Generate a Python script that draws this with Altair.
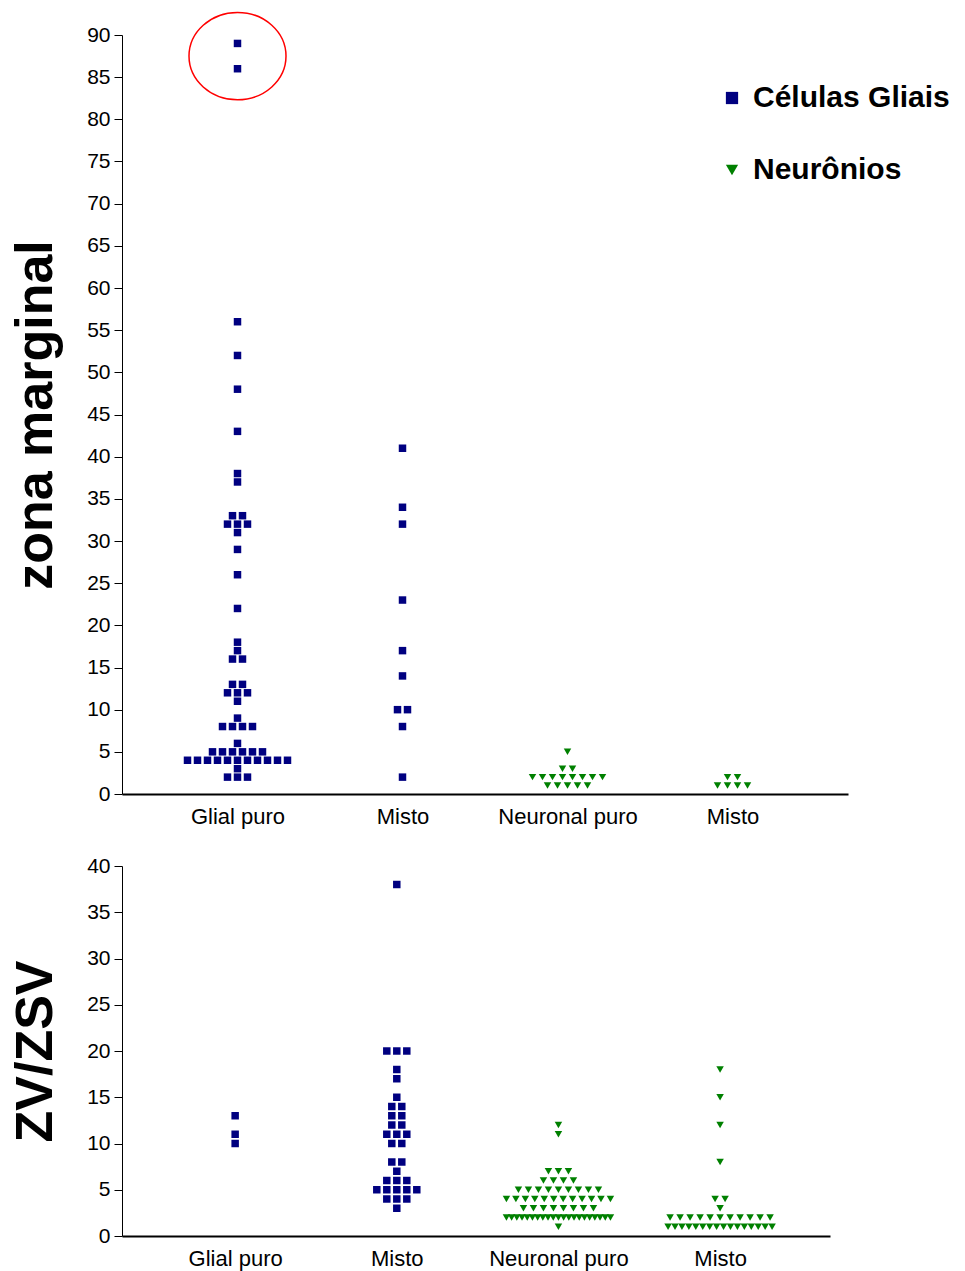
import altair as alt
import pandas as pd
from collections import Counter

# ---------------------------------------------------------------- data
GROUPS = ["Glial puro", "Misto", "Neuronal puro", "Misto"]
SERIES = ["Células Gliais", "Neurônios"]
COLORS = ["#000080", "#008000"]
SHAPES = ["square", "triangle-down"]

# zona marginal
zm_glial_puro = ([89, 86, 56, 52, 48, 43, 38, 37, 33, 33, 32, 32, 32, 31, 29, 26,
                  22, 18, 17, 16, 16, 13, 13, 12, 12, 12, 11, 9, 8, 8, 8, 8, 6]
                 + [5] * 6 + [4] * 11 + [3] + [2] * 3)
zm_misto_glial = [41, 34, 32, 23, 17, 14, 10, 10, 8, 2]
zm_neuronal_puro = [5, 3, 3] + [2] * 8 + [1] * 5
zm_misto_neuronal = [2, 2, 1, 1, 1, 1]

# ZV/ZSV
zv_glial_puro = [13, 11, 10]
zv_misto_glial = [38, 20, 20, 20, 18, 17, 15, 14, 14, 13, 13, 12, 12, 11, 11, 11,
                  10, 10, 8, 8, 7, 6, 6, 6, 5, 5, 5, 5, 5, 4, 4, 4, 3]
zv_neuronal_puro = ([12, 11, 7, 7, 7, 6, 6, 6, 6] + [5] * 9 + [4] * 12 + [3] * 8
                    + [2] * 21 + [1])
zv_misto_neuronal = [18, 15, 12, 8, 4, 4, 3] + [2] * 11 + [1] * 16

# highlighted outliers (centre of the ring, zona marginal / Glial puro)
ring_group = [0]
ring_value = [87.5]

# ---------------------------------------------------------------- layout
TOP_W, TOP_H = 726, 759
BOT_W, BOT_H = 708, 370
TOP_XDOM = [-0.7, 3.7]
BOT_XDOM = [-0.7, 3.68]
FONT = "Liberation Sans"


def swarm(values, step_px, gap=10.0, max_span=104.0):
    """Spread points that share a value side by side, centred on the column."""
    counts = Counter(values)
    seen = Counter()
    offs = []
    for v in values:
        n = counts[v]
        sp = gap if (n - 1) * gap <= max_span else max_span / (n - 1)
        i = seen[v]
        seen[v] += 1
        offs.append((i - (n - 1) / 2) * sp / step_px)
    return offs


def table(columns, width, xdom):
    step = width / (xdom[1] - xdom[0])
    rows = []
    for gi, (values, serie) in enumerate(columns):
        for v, o in zip(values, swarm(values, step)):
            rows.append({"grupo": gi, "serie": serie, "valor": v, "x": gi + o})
    return pd.DataFrame(rows)


top_df = table([(zm_glial_puro, SERIES[0]), (zm_misto_glial, SERIES[0]),
                (zm_neuronal_puro, SERIES[1]), (zm_misto_neuronal, SERIES[1])],
               TOP_W, TOP_XDOM)
bot_df = table([(zv_glial_puro, SERIES[0]), (zv_misto_glial, SERIES[0]),
                (zv_neuronal_puro, SERIES[1]), (zv_misto_neuronal, SERIES[1])],
               BOT_W, BOT_XDOM)
ring_df = pd.DataFrame({"x": ring_group, "valor": ring_value})

label_expr = "[" + ",".join(f"'{g}'" for g in GROUPS) + "][datum.value]"


def x_enc(xdom):
    return alt.X("x:Q",
                 scale=alt.Scale(domain=xdom, nice=False, zero=False),
                 axis=alt.Axis(values=[0, 1, 2, 3], labelExpr=label_expr,
                               ticks=False, grid=False, title=None,
                               domainColor="black", domainWidth=2,
                               labelFont=FONT, labelFontSize=22,
                               labelColor="black", labelPadding=12,
                               labelFlush=False))


def y_enc(ymax, title):
    return alt.Y("valor:Q",
                 scale=alt.Scale(domain=[0, ymax], nice=False),
                 axis=alt.Axis(values=list(range(0, ymax + 1, 5)), grid=False,
                               title=title, titleFont=FONT, titleFontSize=52,
                               titleFontWeight="bold", titleColor="black",
                               titlePadding=24,
                               domainColor="black", domainWidth=1,
                               tickColor="black", tickSize=8, tickWidth=1,
                               labelFont=FONT, labelFontSize=21,
                               labelColor="black", labelPadding=4))


def points(df, xdom, ymax, title, legend):
    return alt.Chart(df).mark_point(filled=True, opacity=1, strokeWidth=0,
                                    size=56).encode(
        x=x_enc(xdom),
        y=y_enc(ymax, title),
        color=alt.Color("serie:N", scale=alt.Scale(domain=SERIES, range=COLORS),
                        legend=legend),
        shape=alt.Shape("serie:N", scale=alt.Scale(domain=SERIES, range=SHAPES),
                        legend=legend),
    )


legend = alt.Legend(title=None, orient="none", legendX=595, legendY=48,
                    labelFont=FONT, labelFontSize=30, labelFontWeight="bold",
                    labelColor="black", labelLimit=400,
                    symbolSize=150, symbolStrokeWidth=0,
                    labelOffset=6, rowPadding=42, padding=0,
                    symbolType="square")

ring = alt.Chart(ring_df).mark_point(
    shape="M-1,0A1,0.9,0,1,1,1,0A1,0.9,0,1,1,-1,0Z",
    filled=False, stroke="#ff0000", strokeWidth=1.5, opacity=1, size=9409,
).encode(x=alt.X("x:Q", scale=alt.Scale(domain=TOP_XDOM, nice=False, zero=False)),
         y=alt.Y("valor:Q", scale=alt.Scale(domain=[0, 90], nice=False)))

top = alt.layer(points(top_df, TOP_XDOM, 90, "zona marginal", legend), ring).properties(
    width=TOP_W, height=TOP_H)
bottom = points(bot_df, BOT_XDOM, 40, "ZV/ZSV", None).properties(
    width=BOT_W, height=BOT_H)

chart = alt.vconcat(top, bottom, spacing=28).properties(
    padding={"left": 9, "top": 9, "right": 5, "bottom": 5},
    background="white",
).configure_view(stroke=None).configure_legend(symbolSize=150)

chart.save("out.html", embed_options={"renderer": "svg", "actions": False})
